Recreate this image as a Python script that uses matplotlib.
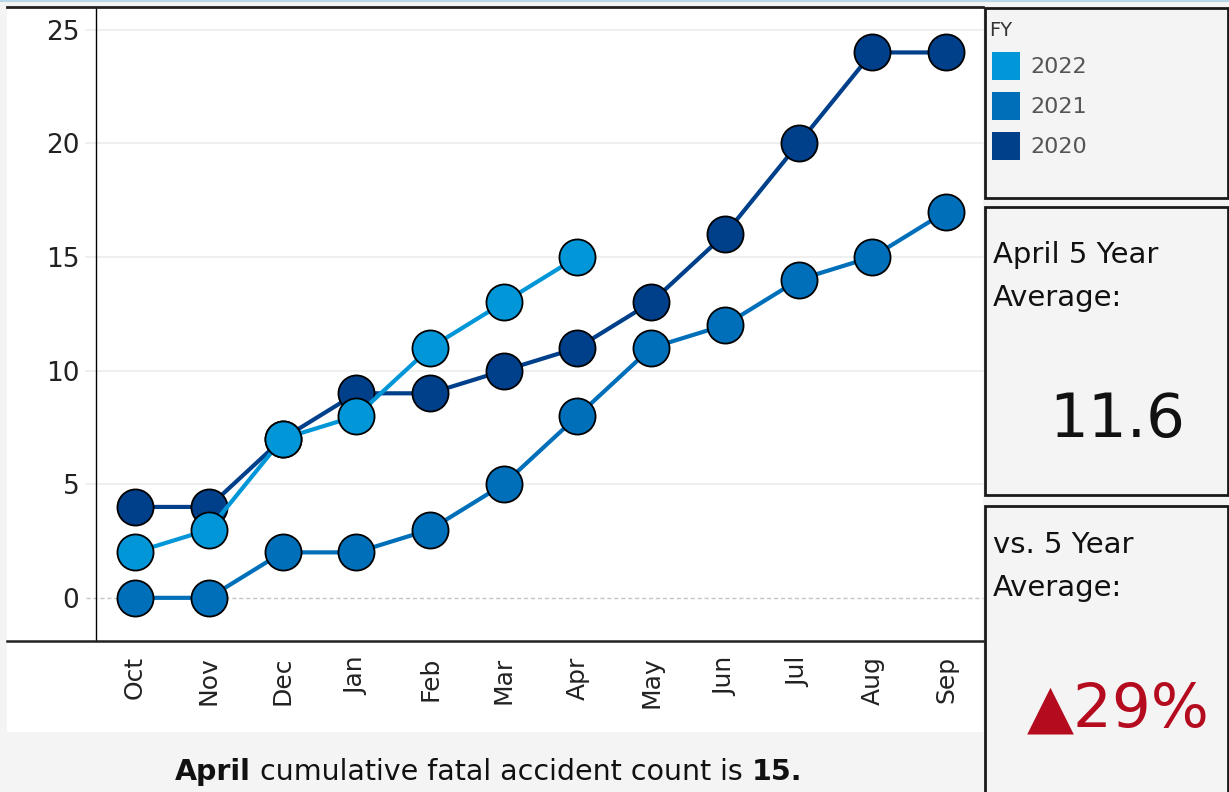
import matplotlib
matplotlib.use("Agg")
import matplotlib.pyplot as plt
from matplotlib.patches import Rectangle
from matplotlib.lines import Line2D

plt.rcParams['font.family'] = ['DejaVu Sans']

# data
months = ["Oct", "Nov", "Dec", "Jan", "Feb", "Mar", "Apr",
          "May", "Jun", "Jul", "Aug", "Sep"]
fy2022 = [2, 3, 7, 8, 11, 13, 15]
fy2021 = [0, 0, 2, 2, 3, 5, 8, 11, 12, 14, 15, 17]
fy2020 = [4, 4, 7, 9, 9, 10, 11, 13, 16, 20, 24, 24]
years = ["2022", "2021", "2020"]
colors = {"2022": "#0096d8", "2021": "#006fba", "2020": "#003f8a"}
series = {"2022": fy2022, "2021": fy2021, "2020": fy2020}
y_ticks = [0, 5, 10, 15, 20, 25]
avg_value = "11.6"
vs_avg = "29%"
current_month = "April"
current_count = "15."

W, H = 1229, 792
fig = plt.figure(figsize=(W / 100, H / 100), dpi=100, facecolor="#f4f4f4")


def fx(px):
    return px / W


def fy(py):
    return 1 - py / H


# white chart background + top accent line
fig.patches.append(Rectangle((fx(7), fy(732)), fx(983) - fx(7), fy(7) - fy(732),
                             transform=fig.transFigure, facecolor="white",
                             edgecolor="none", zorder=-1))
fig.lines.append(Line2D([0, 1], [fy(0.5), fy(0.5)], transform=fig.transFigure,
                        color="#b9d6ea", lw=1.5))

ax = fig.add_axes([fx(96), fy(641), fx(983) - fx(96), fy(7) - fy(641)])
ax.set_facecolor("white")
ax.set_xlim(-0.53, 11.5)
ax.set_ylim(-1.9, 26)

for t in y_ticks[1:]:
    ax.axhline(t, xmin=-10 / 887, color="#ececec", lw=1.2, zorder=1, clip_on=False)
ax.axhline(0, xmin=-10 / 887, color="#c4c4c4", lw=1, ls=(0, (3, 2)), zorder=1, clip_on=False)

for yr in ["2020", "2021", "2022"]:
    vals = series[yr]
    ax.plot(range(len(vals)), vals, color=colors[yr], lw=3, zorder=2,
            marker="o", markersize=26, markerfacecolor=colors[yr],
            markeredgecolor="black", markeredgewidth=1.3)

ax.set_xticks(range(len(months)))
ax.set_xticklabels(months, rotation=90, fontsize=18, color="#222222")
ax.set_yticks(y_ticks)
ax.set_yticklabels([str(t) for t in y_ticks], fontsize=19, color="#222222")
ax.tick_params(axis="both", length=0)
ax.tick_params(axis="x", pad=11)
ax.tick_params(axis="y", pad=12)
for s in ["top", "right", "bottom"]:
    ax.spines[s].set_visible(False)
ax.spines["left"].set_linewidth(1)

# frame lines across the full chart width
fig.lines.append(Line2D([fx(7), fx(983)], [fy(7), fy(7)], transform=fig.transFigure,
                        color="#222222", lw=2))
fig.lines.append(Line2D([fx(7), fx(983)], [fy(641), fy(641)], transform=fig.transFigure,
                        color="#222222", lw=1.8))

# caption with bold pieces
t1 = fig.text(fx(175), fy(772), current_month, fontsize=20.5, fontweight="bold",
              va="center", ha="left", color="#111111")
t2 = ax.annotate(" cumulative fatal accident count is ", xy=(1, 0.5), xycoords=t1,
                 va="center", ha="left", fontsize=20.5, color="#111111")
t3 = ax.annotate(current_count, xy=(1, 0.5), xycoords=t2, va="center", ha="left",
                 fontsize=20.5, fontweight="bold", color="#111111")

# right side panels
for top, bottom in [(8, 198), (207, 495), (506, 800)]:
    fig.patches.append(Rectangle((fx(985), fy(bottom)), fx(1228) - fx(985), fy(top) - fy(bottom),
                                 transform=fig.transFigure, facecolor="#f4f4f4",
                                 edgecolor="#1a1a1a", lw=2, zorder=1))

fig.text(fx(989), fy(31), "FY", fontsize=14, color="#333333", va="center", ha="left")
for i, yr in enumerate(years):
    top = 52 + i * 40
    fig.patches.append(Rectangle((fx(992), fy(top + 28)), fx(1020) - fx(992), fy(top) - fy(top + 28),
                                 transform=fig.transFigure, facecolor=colors[yr],
                                 edgecolor="none", zorder=2))
    fig.text(fx(1030), fy(top + 15), yr, fontsize=16, color="#555555", va="center", ha="left")

fig.text(fx(993), fy(255), "April 5 Year", fontsize=21, color="#111111", va="center", ha="left")
fig.text(fx(993), fy(298), "Average:", fontsize=21, color="#111111", va="center", ha="left")
fig.text(fx(1117), fy(421), avg_value, fontsize=44, color="#111111", va="center", ha="center")

fig.text(fx(993), fy(545), "vs. 5 Year", fontsize=21, color="#111111", va="center", ha="left")
fig.text(fx(993), fy(588), "Average:", fontsize=21, color="#111111", va="center", ha="left")
fig.text(fx(1118), fy(710), "\u25b2" + vs_avg, fontsize=44, color="#b50b1e",
         va="center", ha="center")

fig.savefig("out.png", dpi=100, facecolor=fig.get_facecolor())
